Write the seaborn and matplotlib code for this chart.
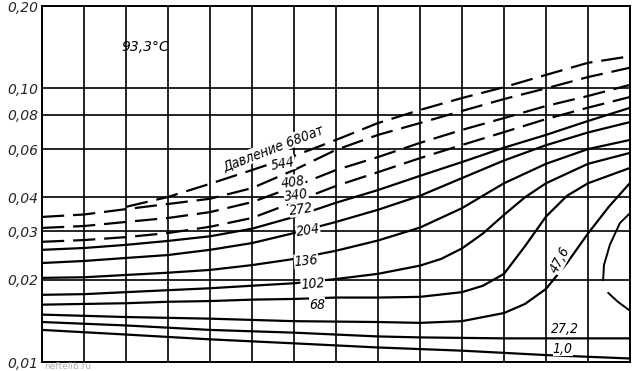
import matplotlib
matplotlib.use("Agg")
import matplotlib.pyplot as plt
from matplotlib.ticker import NullLocator
import seaborn as sns

# grid columns along x (no labels on the original)
grid_x = list(range(15))

# y axis ticks (log scale)
y_ticks = [0.01, 0.02, 0.03, 0.04, 0.06, 0.08, 0.10, 0.20]
y_labels = ["0,01", "0,02", "0,03", "0,04", "0,06", "0,08", "0,10", "0,20"]

# pressure curves, atm -> (x, value)
x_full = list(range(15))
p680_x = [2, 3, 4, 5, 6, 7, 8, 9, 10, 11, 12, 13, 14]
p680_y = [0.0369, 0.0401, 0.0448, 0.0503, 0.0566, 0.0648, 0.0747, 0.0834,
          0.0922, 0.101, 0.112, 0.124, 0.131]
p544_y = [0.0339, 0.0346, 0.0362, 0.0378, 0.0395, 0.0432, 0.0503, 0.0596,
          0.0676, 0.0747, 0.0827, 0.0914, 0.100, 0.110, 0.119]
p408_y = [0.0309, 0.0314, 0.0325, 0.0336, 0.0353, 0.0384, 0.0437, 0.0503,
          0.0561, 0.0632, 0.0705, 0.0779, 0.0862, 0.0938, 0.103]
p340_y = [0.0275, 0.0279, 0.0286, 0.0296, 0.0312, 0.0336, 0.0384, 0.0440,
          0.0494, 0.0556, 0.0621, 0.0692, 0.0772, 0.0850, 0.0930]
p272_y = [0.0257, 0.0261, 0.0268, 0.0277, 0.0288, 0.0307, 0.0339, 0.0382,
          0.0425, 0.0479, 0.0538, 0.0607, 0.0676, 0.0760, 0.0849]
p204_y = [0.0230, 0.0234, 0.0240, 0.0246, 0.0257, 0.0272, 0.0296, 0.0325,
          0.0360, 0.0405, 0.0470, 0.0545, 0.0620, 0.0690, 0.0753]
p136_y = [0.0203, 0.0204, 0.0208, 0.0212, 0.0217, 0.0226, 0.0238, 0.0255,
          0.0278, 0.0310, 0.0365, 0.0450, 0.0530, 0.0600, 0.0648]
p102_x = [0, 1, 2, 3, 4, 5, 6, 7, 8, 9, 9.5, 10, 10.5, 11, 11.5, 12, 13, 14]
p102_y = [0.0176, 0.0177, 0.0180, 0.0183, 0.0186, 0.0190, 0.0194, 0.0201,
          0.0210, 0.0225, 0.0238, 0.0260, 0.0295, 0.0345, 0.0400, 0.0450,
          0.0530, 0.0581]
p68_x = [0, 1, 2, 3, 4, 5, 6, 7, 8, 9, 10, 10.5, 11, 11.5, 12, 12.5, 13, 14]
p68_y = [0.0162, 0.0163, 0.0164, 0.0166, 0.0167, 0.0169, 0.0170, 0.0172,
         0.0172, 0.0173, 0.0180, 0.0190, 0.0210, 0.0265, 0.0340, 0.0405,
         0.0450, 0.0512]
p47_x = [0, 2, 4, 6, 8, 9, 10, 11, 11.5, 12, 12.5, 13, 13.5, 14]
p47_y = [0.0149, 0.0146, 0.0144, 0.0141, 0.0140, 0.0139, 0.0141, 0.0151,
         0.0163, 0.0185, 0.0230, 0.0295, 0.0370, 0.0451]
p27_x = [0, 2, 4, 6, 8, 9, 11, 14]
p27_y = [0.0140, 0.0136, 0.0131, 0.0128, 0.0124, 0.0123, 0.0122, 0.0122]
p1_x = [0, 2, 4, 6, 8, 10, 12, 14]
p1_y = [0.0131, 0.0126, 0.0121, 0.0117, 0.0113, 0.0110, 0.0106, 0.0103]

# two-phase boundary on the right edge
arc_top_x = [14.0, 13.76, 13.52, 13.38, 13.36]
arc_top_y = [0.0350, 0.0322, 0.0268, 0.0226, 0.0199]
arc_bot_x = [13.48, 13.71, 14.0]
arc_bot_y = [0.0179, 0.0166, 0.0154]

dashed = [("680", p680_x, p680_y), ("544", x_full, p544_y),
          ("408", x_full, p408_y), ("340", x_full, p340_y)]
solid = [("272", x_full, p272_y), ("204", x_full, p204_y),
         ("136", x_full, p136_y), ("102", p102_x, p102_y),
         ("68", p68_x, p68_y), ("47,6", p47_x, p47_y),
         ("27,2", p27_x, p27_y), ("1,0", p1_x, p1_y)]

# label text, position, rotation
labels = [("Давление 680ат", 5.5, 0.0606, 21),
          ("544", 5.74, 0.0530, 10), ("408", 5.98, 0.0455, 8),
          ("340", 6.05, 0.0407, 8), ("272", 6.17, 0.0362, 8),
          ("204", 6.33, 0.0304, 8), ("136", 6.29, 0.0234, 5),
          ("102", 6.45, 0.0193, 5), ("68", 6.55, 0.0162, 0),
          ("47,6", 12.33, 0.0236, 62), ("27,2", 12.45, 0.0132, 0),
          ("1,0", 12.40, 0.0112, 0)]

sns.set_style("white")
plt.rcParams["font.family"] = ["DejaVu Sans"]

fig = plt.figure(figsize=(6.33, 3.71), dpi=100)
ax = fig.add_axes([42 / 633, 9 / 371, 588 / 633, 356 / 371])

for name, xs, ys in dashed:
    sns.lineplot(x=xs, y=ys, ax=ax, color="black", lw=1.6,
                 linestyle=(0, (10, 4)), estimator=None, sort=False)
for name, xs, ys in solid:
    sns.lineplot(x=xs, y=ys, ax=ax, color="black", lw=1.6,
                 estimator=None, sort=False)
sns.lineplot(x=arc_top_x, y=arc_top_y, ax=ax, color="black", lw=1.4,
             estimator=None, sort=False)
sns.lineplot(x=arc_bot_x, y=arc_bot_y, ax=ax, color="black", lw=1.4,
             estimator=None, sort=False)

for txt, lx, ly, rot in labels:
    ax.text(lx, ly, txt, rotation=rot, ha="center", va="center",
            fontsize=10, style="italic", color="black",
            fontstretch="condensed",
            bbox=dict(facecolor="white", edgecolor="none", pad=0.2))

ax.text(2.45, 0.142, "93,3°C", ha="center", va="center", fontsize=10,
        style="italic", color="black")

ax.set_yscale("log")
ax.set_xlim(0, 14)
ax.set_ylim(0.01, 0.2)
ax.set_xticks(grid_x)
ax.set_xticklabels([])
ax.set_yticks(y_ticks)
ax.set_yticklabels(y_labels, fontsize=10, style="italic")
ax.yaxis.set_minor_locator(NullLocator())
ax.tick_params(length=0, pad=3)
ax.grid(True, color="black", lw=1.2)
ax.set_axisbelow(True)
for s in ax.spines.values():
    s.set_color("black")
    s.set_linewidth(1.4)
ax.set_xlabel("")
ax.set_ylabel("")

fig.text(44 / 633, 0.0, "neftelib.ru", color="#b0b0b0", fontsize=6.5,
         va="bottom")

fig.savefig("out.png", dpi=100)
